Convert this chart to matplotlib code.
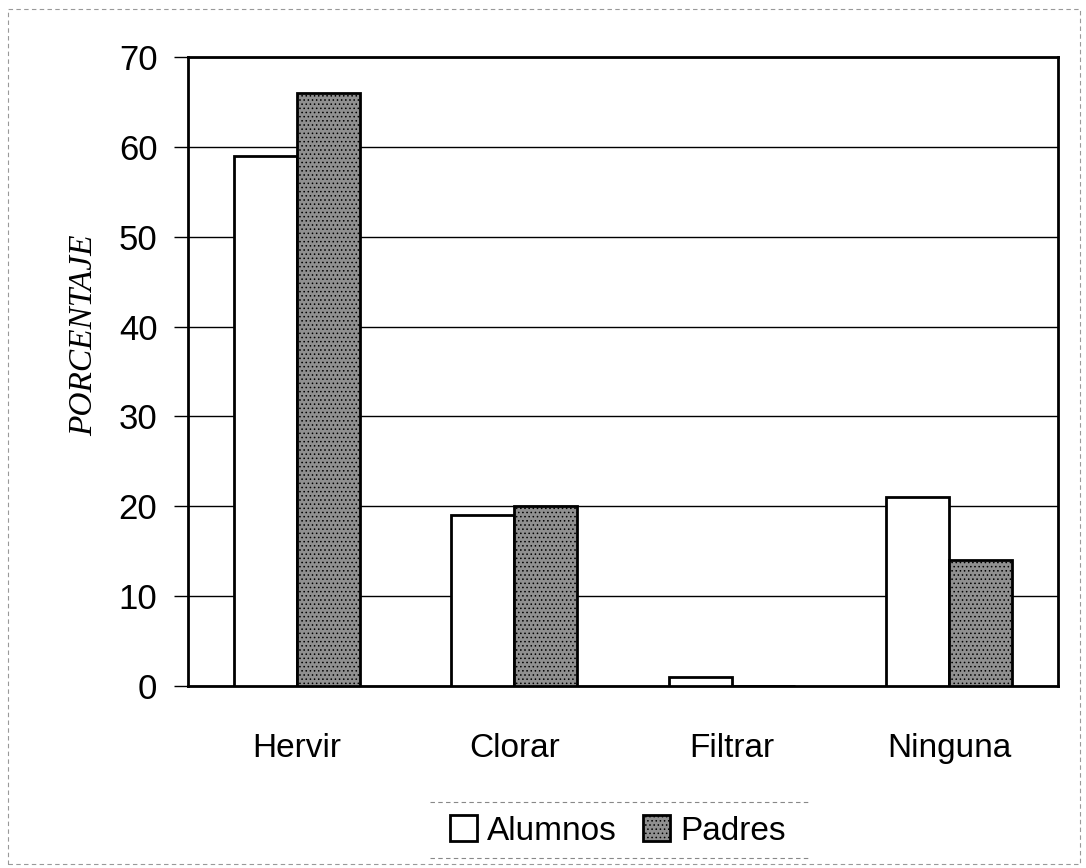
import matplotlib
matplotlib.use("Agg")
import matplotlib.pyplot as plt
import numpy as np
from matplotlib.patches import Rectangle

categories = ["Hervir", "Clorar", "Filtrar", "Ninguna"]
alumnos = [59, 19, 1, 21]
padres = [66, 20, 0, 14]
series_names = ["Alumnos", "Padres"]
yticks = [0, 10, 20, 30, 40, 50, 60, 70]

fig = plt.figure(figsize=(10.86, 8.68), dpi=100)
ax = fig.add_axes([188/1086, 1-686/868, 870/1086, (686-57)/868])

x = np.arange(len(categories))
w = 0.29
plt.rcParams['hatch.linewidth'] = 0.6
plt.rcParams['hatch.color'] = "#444444"
b1 = ax.bar(x - w/2, alumnos, w, facecolor="white", edgecolor="black", linewidth=2,
            label=series_names[0], zorder=3)
b2 = ax.bar(x + w/2, padres, w, facecolor="#909090", edgecolor="black", linewidth=2,
            hatch="....", label=series_names[1], zorder=3)

ax.set_xlim(-0.5, 3.5)
ax.set_ylim(0, 70)
ax.set_yticks(yticks)
ax.set_yticklabels([str(t) for t in yticks], fontsize=25, family="Liberation Sans")
ax.set_xticks(x)
ax.set_xticklabels(categories, fontsize=24, family="Liberation Sans")
ax.tick_params(axis="x", length=0, pad=34)
ax.tick_params(axis="y", length=10, width=1, direction="out", pad=12)
ax.yaxis.grid(True, color="black", linewidth=1)
ax.set_axisbelow(True)
for s in ax.spines.values():
    s.set_linewidth(2)
ax.set_ylabel("PORCENTAJE", fontsize=24, family="Liberation Serif", style="italic")
ax.yaxis.set_label_coords(-0.102, (686-335)/(686-57))

leg = fig.legend(handles=[b1, b2], labels=series_names, loc="center",
                 bbox_to_anchor=(618/1086, 1-831/868), ncol=2, frameon=False,
                 prop={"family": "Liberation Sans", "size": 24},
                 handlelength=0.8, handleheight=0.8, handletextpad=0.3,
                 columnspacing=0.8, borderpad=0.5)

for yy in (802, 858):
    fig.add_artist(plt.Line2D([430/1086, 810/1086], [1-yy/868, 1-yy/868],
                              transform=fig.transFigure, color="#888888",
                              linewidth=0.8, linestyle=(0, (4, 3))))

fig.patches.append(Rectangle((8/1086, 0.005), 1072/1086, 0.985, transform=fig.transFigure,
                             fill=False, edgecolor="#999999", linewidth=0.8,
                             linestyle=(0, (4, 3))))

fig.savefig("out.png", dpi=100)
